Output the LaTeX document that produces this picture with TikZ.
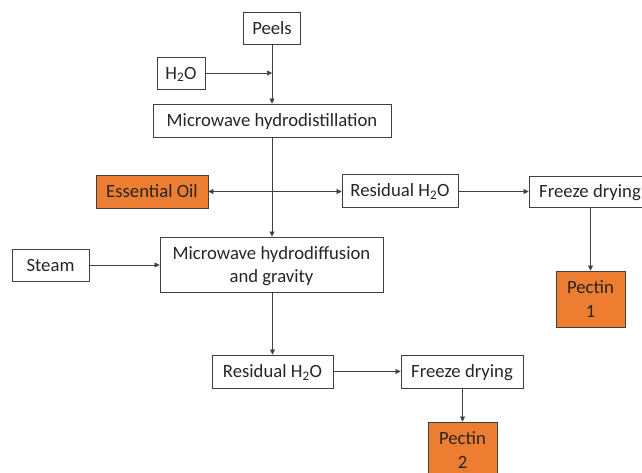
\documentclass[tikz,border=0pt]{standalone}
\usepackage{fontspec}
\setmainfont{Carlito}
\usetikzlibrary{arrows.meta}
\definecolor{orng}{HTML}{ED7D31}
\definecolor{ln}{HTML}{404040}
\tikzset{
  box/.style={draw=ln, line width=0.9pt, fill=white, inner sep=0pt, align=center, text depth=0pt, font=\fontsize{18.7}{23.5}\selectfont, text=black!85},
  obox/.style={box, fill=orng},
  conn/.style={draw=ln, line width=0.7pt, -{Triangle[width=5pt,length=5pt]}},
}
\begin{document}
\begin{tikzpicture}[x=1pt,y=-1pt]
\useasboundingbox (0,0) rectangle (642,473);
\clip (0,0) rectangle (642,473);
\node[box, minimum width=57pt, minimum height=32pt] (peels) at (272,28) {Peels};
\node[box, minimum width=48pt, minimum height=32pt] (h2o) at (181,73) {H\textsubscript{2}O};
\node[box, minimum width=238pt, minimum height=33pt] (mh) at (272,120.5) {Microwave hydrodistillation};
\node[obox, minimum width=112pt, minimum height=33pt] (eo) at (152,191.5) {Essential Oil};
\node[box, minimum width=116pt, minimum height=33pt] (res1) at (400,190.5) {Residual H\textsubscript{2}O};
\node[box, minimum width=122pt, minimum height=31pt] (fd1) at (590,191.5) {Freeze drying};
\node[obox, minimum width=69pt, minimum height=56pt] (p1) at (590.5,299) {Pectin\\1};
\node[box, minimum width=77pt, minimum height=32pt] (steam) at (50.5,265) {Steam};
\node[box, minimum width=223pt, minimum height=55pt] (mhd) at (271.5,264.5) {Microwave hydrodiffusion\\and gravity};
\node[box, minimum width=121pt, minimum height=33pt] (res2) at (272.5,371.5) {Residual H\textsubscript{2}O};
\node[box, minimum width=122pt, minimum height=33pt] (fd2) at (462,371.5) {Freeze drying};
\node[obox, minimum width=69pt, minimum height=56pt] (p2) at (462.5,450) {Pectin\\2};
\coordinate (j1) at (peels.south |- h2o.east);
\draw[conn] (peels.south) -- (peels.south |- mh.north);
\draw[conn] (h2o.east) -- (j1);
\draw[conn] (mh.south -| peels.south) -- (mhd.north -| peels.south);
\draw[conn, {Triangle[width=5pt,length=5pt]}-{Triangle[width=5pt,length=5pt]}] (eo.east) -- (eo.east -| res1.west);
\draw[conn] (eo.east -| res1.east) -- (eo.east -| fd1.west);
\draw[conn] (fd1.south -| p1.north) -- (p1.north);
\draw[conn] (steam.east) -- (mhd.west |- steam.east);
\draw[conn] (mhd.south -| res2.north) -- (res2.north);
\draw[conn] (res2.east) -- (fd2.west);
\draw[conn] (fd2.south -| p2.north) -- (p2.north);
\end{tikzpicture}
\end{document}
